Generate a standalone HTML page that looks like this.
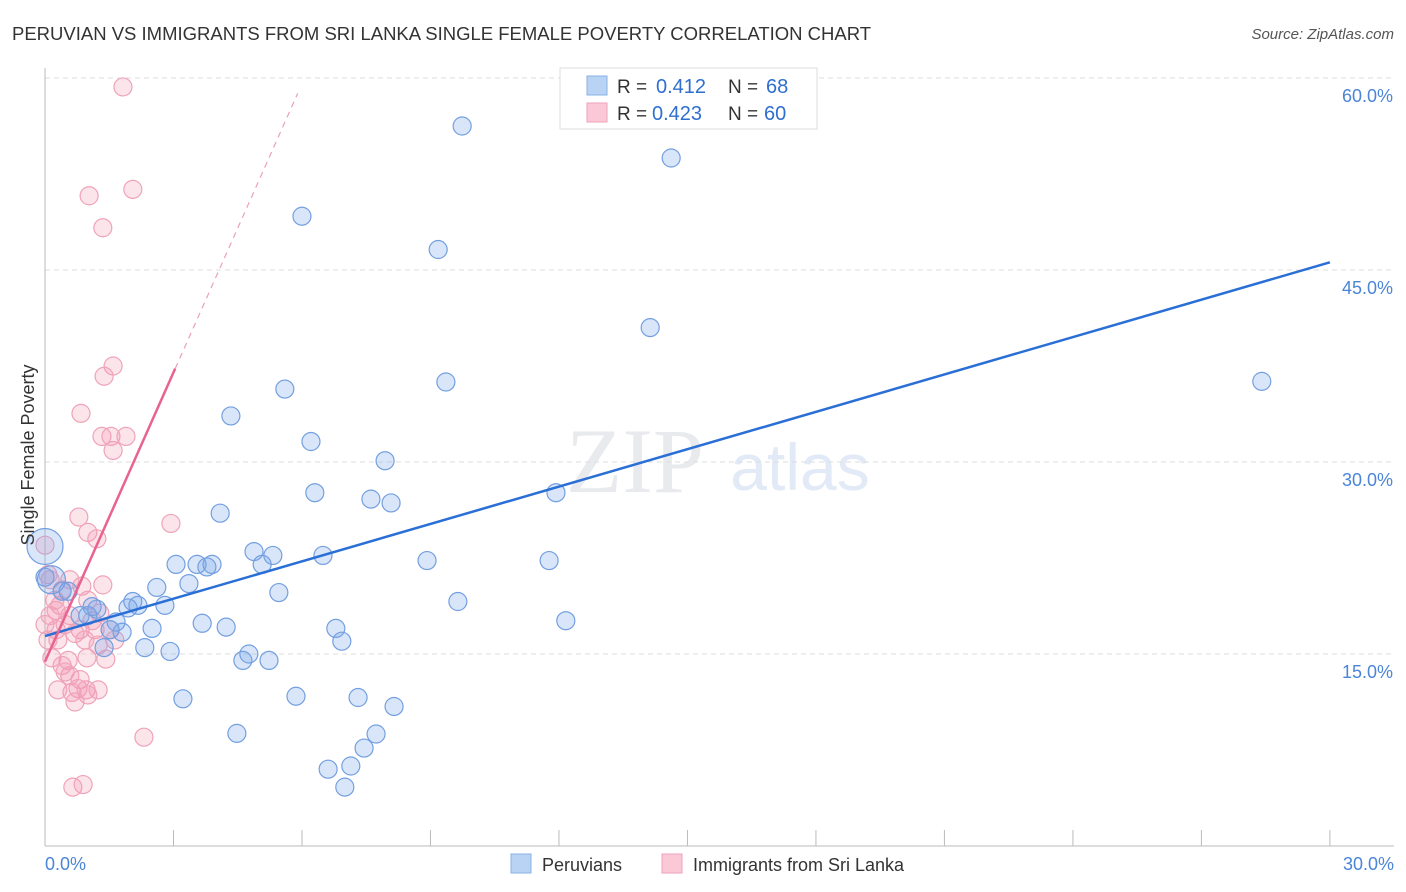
<!DOCTYPE html>
<html><head><meta charset="utf-8"><style>
body{margin:0;background:#fff;font-family:"Liberation Sans",sans-serif;}
svg{display:block}
</style></head><body>
<svg id="c" width="1406" height="892">
<text x="12" y="40" font-size="18.5" fill="#333">PERUVIAN VS IMMIGRANTS FROM SRI LANKA SINGLE FEMALE POVERTY CORRELATION CHART</text>
<text x="1394" y="39" font-size="15" fill="#555" text-anchor="end" font-style="italic">Source: ZipAtlas.com</text>
<text x="635" y="492" font-size="92" fill="#e8eaed" font-family="Liberation Serif" text-anchor="middle">ZIP</text>
<text x="800" y="490" font-size="66" fill="#e1eaf6" text-anchor="middle">atlas</text>
<g id="grid"></g><g id="pts"></g><g id="lines"></g>
<text transform="translate(34,455) rotate(-90)" font-size="18" fill="#333" text-anchor="middle">Single Female Poverty</text>
<g>
<rect x="560" y="68" width="257" height="61" fill="#fff" stroke="#ddd"/>
<rect x="587" y="76" width="20" height="19" fill="#b9d3f5" stroke="#8ab0e6"/>
<rect x="587" y="103" width="20" height="19" fill="#fac8d6" stroke="#eea2b8"/>
<text x="617" y="93" font-size="19" fill="#333">R =</text>
<text x="656" y="93" font-size="20" fill="#2f6fd0">0.412</text>
<text x="728" y="93" font-size="19" fill="#333">N =</text>
<text x="766" y="93" font-size="20" fill="#2f6fd0">68</text>
<text x="617" y="120" font-size="19" fill="#333">R =</text>
<text x="652" y="120" font-size="20" fill="#2f6fd0">0.423</text>
<text x="728" y="120" font-size="19" fill="#333">N =</text>
<text x="764" y="120" font-size="20" fill="#2f6fd0">60</text>
</g>
<g>
<rect x="511" y="854" width="20" height="19" fill="#b9d3f5" stroke="#8ab0e6"/>
<text x="542" y="871" font-size="18" fill="#333">Peruvians</text>
<rect x="662" y="854" width="20" height="19" fill="#fac8d6" stroke="#eea2b8"/>
<text x="693" y="871" font-size="18" fill="#333">Immigrants from Sri Lanka</text>
</g>
</svg>
<script>
const yTicks=[15,30,45,60];
const yTickLabels=["15.0%","30.0%","45.0%","60.0%"];
const xTickLabels=["0.0%","30.0%"];
const blueX=[9.74,14.62,6.0,9.18,14.13,28.41,9.36,5.60,4.34,6.21,7.94,6.30,7.61,8.08,11.93,4.09,11.77,8.92,4.88,5.32,6.49,3.06,3.55,3.90,3.78,5.07,3.36,2.61,5.46,9.64,2.80,2.05,2.17,1.94,1.21,0.82,1.10,1.00,1.66,2.50,1.80,1.52,3.67,4.23,6.79,6.93,12.16,2.33,2.92,1.38,4.76,4.62,5.23,5.86,7.31,8.15,3.22,4.48,7.73,7.45,7.14,6.61,7.00,0.0,0.15,0.40,0.54,0.0];
const blueY=[56.25,53.75,49.2,46.6,40.5,36.3,36.25,35.7,33.6,31.6,30.1,27.6,27.1,26.8,27.6,26.0,22.3,22.3,23.0,22.7,22.7,22.0,22.0,22.0,21.8,22.0,20.5,20.2,19.8,19.1,18.8,19.1,18.8,18.6,18.5,18.0,18.7,18.0,17.5,17.0,16.7,16.9,17.4,17.1,17.0,16.0,17.6,15.5,15.2,15.5,15.0,14.5,14.5,11.7,11.6,10.9,11.5,8.8,8.75,7.65,6.25,6.0,4.6,23.4,20.8,19.9,19.9,21.0];
const blueR=[9,9,9,9,9,9,9,9,9,9,9,9,9,9,9,9,9,9,9,9,9,9,9,9,9,9,9,9,9,9,9,9,9,9,9,9,9,9,9,9,9,9,9,9,9,9,9,9,9,9,9,9,9,9,9,9,9,9,9,9,9,9,9,18,14,9,9,9];
const pinkX=[1.82,1.03,2.05,1.35,1.59,1.38,0.84,1.33,1.54,1.89,1.59,2.94,0.79,1.00,1.21,0,0.07,0.12,0.86,1.35,0.58,1.00,0.35,0.26,0.58,1.28,0.47,0.26,0.82,1.17,1.52,0.07,0.30,0.70,1.24,0.16,0.54,0.40,1.42,0.98,0.82,0.58,0.47,0.77,0.63,0.96,1.24,1.00,0.70,2.31,0.65,0.89,0.23,0.40,0,0.12,0.93,0.30,1.10,1.63];
const pinkY=[59.3,50.8,51.3,48.3,37.5,36.7,33.8,32.0,32.0,32.0,30.9,25.2,25.7,24.5,24.0,23.5,21.2,20.8,20.3,20.4,20.8,19.2,18.8,18.4,18.0,18.2,17.3,16.9,16.9,16.9,16.9,16.1,16.1,16.6,15.7,14.7,14.5,14.1,14.6,14.7,13.0,13.3,13.6,12.3,12.0,12.2,12.2,11.8,11.25,8.5,4.6,4.8,19.2,20.0,17.3,18.0,16.1,12.2,17.6,16.1];
const blueTrend=[0,16.4,30,45.6];
const pinkTrend=[0,14.4,3.04,37.3,5.9,58.8];
const X=v=>45+v*42.83, Y=v=>846-v*12.8;
const NS="http://www.w3.org/2000/svg";
function mk(t,a,p){const e=document.createElementNS(NS,t);for(const k in a)e.setAttribute(k,a[k]);p.appendChild(e);return e;}
const g=document.getElementById('grid');
yTicks.forEach((t,i)=>{
 const l=mk('line',{x1:45,x2:1394,y1:Y(t),y2:Y(t),stroke:'#ddd','stroke-dasharray':'5,4'},g);
 
 
 const tx=mk('text',{x:1393,y:Y(t)+24,'font-size':18,fill:'#4a85d8','text-anchor':'end'},g);
 tx.textContent=yTickLabels[i];
 
 
});
const ya=mk('line',{x1:45,x2:45,y1:68,y2:846,stroke:'#bbb'},g);


const xa=mk('line',{x1:45,x2:1394,y1:846,y2:846,stroke:'#bbb'},g);


for(let i=0;i<=10;i++){const tk=mk('line',{x1:X(i*3),x2:X(i*3),y1:846,y2:830,stroke:'#bbb'},g);
 
 }
[[0,'start',45],[30,'end',1394]].forEach((d,i)=>{const tx=mk('text',{x:d[2],y:870,'font-size':18,fill:'#4a85d8','text-anchor':d[1]},g);tx.textContent=xTickLabels[i];
 
 });
const p=document.getElementById('pts');
pinkX.forEach((v,i)=>{const c=mk('circle',{cx:X(v),cy:Y(pinkY[i]),r:9,fill:'rgba(244,150,178,0.26)',stroke:'#efa3b9','stroke-width':1.2},p);
 
 });
blueX.forEach((v,i)=>{const c=mk('circle',{cx:X(v),cy:Y(blueY[i]),r:blueR[i],fill:'rgba(120,165,235,0.28)',stroke:'#739fe0','stroke-width':1.2},p);
 
 });
const L=document.getElementById('lines');
const bl=mk('line',{x1:X(blueTrend[0]),y1:Y(blueTrend[1]),x2:X(blueTrend[2]),y2:Y(blueTrend[3]),stroke:'#2a6fd6','stroke-width':2.5},L);


const pl=mk('line',{x1:X(pinkTrend[0]),y1:Y(pinkTrend[1]),x2:X(pinkTrend[2]),y2:Y(pinkTrend[3]),stroke:'#e8638f','stroke-width':2.5},L);


const pd=mk('line',{x1:X(pinkTrend[2]),y1:Y(pinkTrend[3]),x2:X(pinkTrend[4]),y2:Y(pinkTrend[5]),stroke:'#eaa0b8','stroke-width':1.2,'stroke-dasharray':'6,5'},L);


</script>
</body></html>
